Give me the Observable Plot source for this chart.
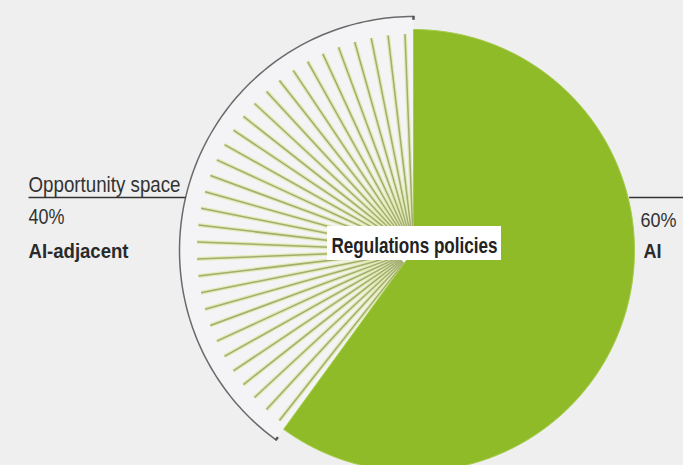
<!DOCTYPE html>
<html>
<head>
<meta charset="utf-8">
<script src="https://cdn.jsdelivr.net/npm/d3@7"></script>
<script src="https://cdn.jsdelivr.net/npm/@observablehq/plot@0.6"></script>
<style>
  html, body { margin: 0; padding: 0; background: #efefef; }
  #chart { width: 683px; height: 465px; overflow: hidden; }
</style>
</head>
<body>
<div id="chart"></div>
<script>
// ---- data ----
const segments = ["AI", "AI-adjacent"];
const shares = [60, 40];
const shareLabels = ["60%", "40%"];
const centerLabel = "Regulations policies";
const opportunityLabel = "Opportunity space";
const hatchCount = 32;

// ---- layout ----
const W = 683, H = 465, CX = 413, CY = 250, R = 221;
const px = x => (x - CX) / R;
const py = y => (CY - y) / R;
const pt = (a, r) => ({x: r * Math.sin(a), y: r * Math.cos(a)});
const FONT = "'Liberation Sans', Arial, sans-serif";

const arcs = d3.pie().sort(null).value(d => d)(shares);
const rArc = 234 / R;

function slicePoints(p, r) {
  const n = 120, pts = [{x: 0, y: 0}];
  for (let k = 0; k <= n; k++) {
    const a = p.startAngle + (p.endAngle - p.startAngle) * k / n;
    pts.push(pt(a, r));
  }
  pts.push({x: 0, y: 0});
  return pts;
}
const greenSlice = slicePoints(arcs[0], 1);
const lightSlice = slicePoints(arcs[1], rArc);

// hatch lines in the AI-adjacent slice
const hs = arcs[1];
const hatch = d3.range(hatchCount).map(k => {
  const a = hs.startAngle + (hs.endAngle - hs.startAngle) * (k + 0.5) / hatchCount;
  const p1 = pt(a, 0.07), p2 = pt(a, 0.98);
  return {x1: p1.x, y1: p1.y, x2: p2.x, y2: p2.y};
});

// bracket arc along the opportunity space
const arcPts = d3.range(0, 121).map(k => pt(hs.startAngle + (hs.endAngle - hs.startAngle) * k / 120, rArc));
const ticks = [hs.startAngle, hs.endAngle].map(a => {
  const p1 = pt(a, rArc - 0.015), p2 = pt(a, rArc + 0.003);
  return {x1: p1.x, y1: p1.y, x2: p2.x, y2: p2.y};
});

// leader lines
const yLead = py(197);
const leaders = [
  {x1: px(28), x2: -Math.sqrt(rArc * rArc - yLead * yLead), y1: yLead, y2: yLead},
  {x1: Math.sqrt(1 - yLead * yLead) + 0.005, x2: px(683), y1: yLead, y2: yLead}
];

const leftNormal = [
  {x: px(28), y: py(191), t: opportunityLabel, len: 152},
  {x: px(28), y: py(223), t: shareLabels[1], len: 36}
];
const rightNormal = [
  {x: px(676), y: py(226), t: shareLabels[0], len: 36}
];
const boldLabels = [
  {x: px(28), y: py(257), t: segments[1], len: 100},
  {x: px(643), y: py(257), t: segments[0], len: 18}
];
const textLen = new Map([...leftNormal, ...rightNormal, ...boldLabels].map(d => [d.t, d.len]));
textLen.set(centerLabel, 166);

const chart = Plot.plot({
  width: W, height: H, margin: 0,
  x: {domain: [px(0), px(W)], axis: null},
  y: {domain: [py(H), py(0)], axis: null},
  style: {background: "#efefef"},
  marks: [
    Plot.line(lightSlice, {x: "x", y: "y", fill: "#f4f4f6", stroke: "none"}),
    Plot.link(hatch, {x1: "x1", y1: "y1", x2: "x2", y2: "y2", stroke: "#e1ebb4", strokeWidth: 4}),
    Plot.link(hatch, {x1: "x1", y1: "y1", x2: "x2", y2: "y2", stroke: "#a3ad72", strokeWidth: 1.5}),
    Plot.line(greenSlice, {x: "x", y: "y", fill: "#8fbb28", stroke: "#a6cc4a", strokeWidth: 1}),
    Plot.line(arcPts, {x: "x", y: "y", stroke: "#6a6a6a", strokeWidth: 1.5}),
    Plot.link(ticks, {x1: "x1", y1: "y1", x2: "x2", y2: "y2", stroke: "#555", strokeWidth: 2.5}),
    Plot.link(leaders, {x1: "x1", y1: "y1", x2: "x2", y2: "y2", stroke: "#333", strokeWidth: 1.4}),
    Plot.rect([{x1: px(327), x2: px(501), y1: py(260), y2: py(226)}], {x1: "x1", x2: "x2", y1: "y1", y2: "y2", fill: "white"}),
    Plot.text([centerLabel], {x: px(414), y: py(252), text: d => d, textAnchor: "middle", lineAnchor: "bottom",
      fontFamily: FONT, fontWeight: "bold", fontSize: 22, fill: "#222"}),
    Plot.text(leftNormal, {x: "x", y: "y", text: "t", textAnchor: "start", lineAnchor: "bottom",
      fontFamily: FONT, fontSize: 21.5, fill: "#333"}),
    Plot.text(rightNormal, {x: "x", y: "y", text: "t", textAnchor: "end", lineAnchor: "bottom",
      fontFamily: FONT, fontSize: 20, fill: "#333"}),
    Plot.text(boldLabels, {x: "x", y: "y", text: "t", textAnchor: "start", lineAnchor: "bottom",
      fontFamily: FONT, fontWeight: "bold", fontSize: 21, fill: "#2a2a2a"})
  ]
});
// compress text horizontally like the narrow face of the original
d3.select(chart).selectAll("text").each(function() {
  const len = textLen.get(this.textContent);
  if (len) d3.select(this).attr("textLength", len).attr("lengthAdjust", "spacingAndGlyphs");
});
document.getElementById("chart").appendChild(chart);
</script>
</body>
</html>
